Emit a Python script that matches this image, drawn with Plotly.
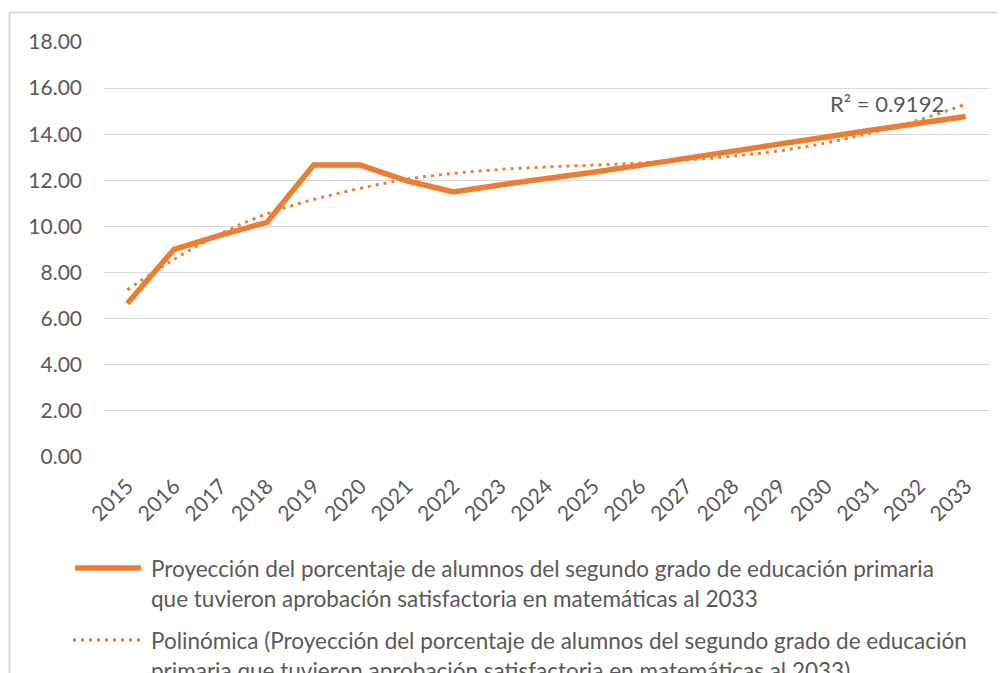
import plotly.graph_objects as go

# data
years = [str(y) for y in range(2015, 2034)]
projection = [6.66, 9.00, 9.62, 10.18, 12.66, 12.66, 11.98, 11.50, 11.80, 12.05,
              12.35, 12.65, 12.97, 13.27, 13.57, 13.88, 14.18, 14.47, 14.77]
poly_trend = [7.25, 8.57, 9.68, 10.55, 11.17, 11.65, 12.05, 12.30, 12.47, 12.58,
              12.66, 12.75, 12.88, 13.05, 13.28, 13.62, 14.08, 14.62, 15.30]
r2_label = "R² = 0.9192"
name_main = ["Proyección del porcentaje de alumnos del segundo grado de educación primaria",
             "que tuvieron aprobación satisfactoria en matemáticas al 2033"]
name_trend = ["Polinómica (Proyección del porcentaje de alumnos del segundo grado de educación",
              "primaria que tuvieron aprobación satisfactoria en matemáticas al 2033)"]

ORANGE = "#ED7D31"
GRID = "#D9D9D9"
TEXT = "#595959"
FONT = "Lato, 'Open Sans', sans-serif"

# page body has an 8px margin, so the figure is shrunk by that much
OFF = 8
W, H = 1005 - OFF, 673 - OFF
L, R, T, B = 104 - OFF, 16, 42 - OFF, 216
PW, PH = W - L - R, H - T - B


def px_x(p):
    # p is a screen pixel in the reference picture
    return (p - OFF - L) / PW


def px_y(p):
    return (H - B - (p - OFF)) / PH


fig = go.Figure()
fig.add_trace(go.Scatter(x=years, y=poly_trend, mode="lines", line_shape="spline",
                         line=dict(color=ORANGE, width=3, dash="3px,5px"), showlegend=False))
fig.add_trace(go.Scatter(x=years, y=projection, mode="lines",
                         line=dict(color=ORANGE, width=5.5), showlegend=False))

fig.update_layout(
    width=W, height=H,
    margin=dict(l=L, r=R, t=T, b=B),
    paper_bgcolor="white", plot_bgcolor="white",
    font=dict(family=FONT, color=TEXT, size=21),
    showlegend=False,
)
fig.update_yaxes(range=[0, 18], dtick=2, tickformat=".2f", showgrid=True,
                 gridcolor=GRID, gridwidth=1.4, zeroline=False, showline=False,
                 ticks="", ticklabelstandoff=21, tickfont=dict(size=21, color=TEXT))
fig.update_xaxes(type="category", range=[-0.5, len(years) - 0.5], showgrid=False,
                 zeroline=False, showline=False, ticks="", tickangle=-45,
                 ticklabelstandoff=12, tickfont=dict(size=21, color=TEXT))

# outer chart border (top and left visible)
fig.add_shape(type="line", xref="paper", yref="paper", x0=px_x(9), x1=px_x(1030),
              y0=px_y(12.5), y1=px_y(12.5), line=dict(color=GRID, width=2))
fig.add_shape(type="line", xref="paper", yref="paper", x0=px_x(9.5), x1=px_x(9.5),
              y0=px_y(12.5), y1=px_y(720), line=dict(color=GRID, width=2))

fig.add_annotation(xref="paper", yref="paper", x=px_x(828), y=px_y(104),
                   text=r2_label, showarrow=False, xanchor="left", yanchor="middle",
                   font=dict(size=22, color=TEXT))

# legend drawn below the plot
fig.add_shape(type="line", xref="paper", yref="paper", x0=px_x(75), x1=px_x(141),
              y0=px_y(568), y1=px_y(568), line=dict(color=ORANGE, width=5.5))
fig.add_shape(type="line", xref="paper", yref="paper", x0=px_x(73), x1=px_x(140),
              y0=px_y(640), y1=px_y(640), line=dict(color=ORANGE, width=3, dash="3px,5px"))
for txt, yy in zip(name_main + name_trend, [568, 598, 640, 670]):
    fig.add_annotation(xref="paper", yref="paper", x=px_x(149), y=px_y(yy),
                       text=txt, showarrow=False, xanchor="left", yanchor="middle",
                       font=dict(size=22.5, color=TEXT))

fig.write_html("out.html")
